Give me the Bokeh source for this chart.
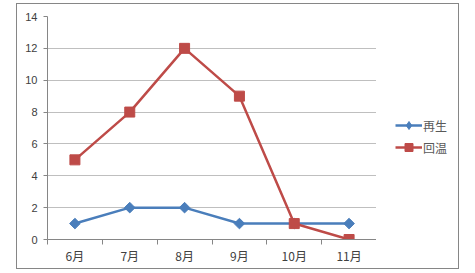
import math
from bokeh.plotting import figure
from bokeh.layouts import row
from bokeh.models import (Range1d, LinearAxis, FixedTicker, Legend, LegendItem,
                          ColumnDataSource, InlineStyleSheet)
from bokeh.embed import file_html
from bokeh.resources import INLINE

months = ["6月", "7月", "8月", "9月", "10月", "11月"]
regen = [1, 2, 2, 1, 1, 1]        # 再生
rewarm = [5, 8, 12, 9, 1, 0]      # 回温
y_ticks = [0, 2, 4, 6, 8, 10, 12, 14]
series_names = ["再生", "回温"]

xpos = [i + 0.5 for i in range(len(months))]
src = ColumnDataSource(dict(x=xpos, regen=regen, rewarm=rewarm))

GRAY = "#868686"
TXT = "#404040"
BLUE = "#4a7ebb"
RED = "#be4b48"

p = figure(width=376, height=273, output_backend="svg", toolbar_location=None,
           x_range=Range1d(0, len(months)), y_range=Range1d(0, 14),
           x_axis_location=None, y_axis_location=None,
           min_border_left=47, min_border_right=0, min_border_top=16,
           min_border_bottom=34)
p.outline_line_color = None
p.background_fill_color = "white"
p.border_fill_color = "white"

yax = LinearAxis(ticker=FixedTicker(ticks=y_ticks, minor_ticks=[]))
yax.axis_line_color = GRAY
yax.major_tick_line_color = GRAY
yax.major_tick_out = 4
yax.major_tick_in = 0
yax.major_label_standoff = 6
yax.major_label_text_font = "Liberation Sans"
yax.major_label_text_font_size = "11px"
yax.major_label_text_color = TXT
p.add_layout(yax, "left")

xax = LinearAxis(ticker=FixedTicker(ticks=xpos, minor_ticks=list(range(len(months) + 1))))
xax.major_label_overrides = {x: m for x, m in zip(xpos, months)}
xax.axis_line_color = GRAY
xax.major_tick_out = 0
xax.major_tick_in = 0
xax.minor_tick_line_color = GRAY
xax.minor_tick_out = 5
xax.minor_tick_in = 0
xax.major_label_standoff = 2
xax.major_label_text_font = "Noto Sans CJK SC"
xax.major_label_text_font_size = "12px"
xax.major_label_text_color = TXT
p.add_layout(xax, "below")

p.ygrid.ticker = FixedTicker(ticks=y_ticks)
p.ygrid.grid_line_color = "#bfbfbf"
p.xgrid.visible = False

p.line("x", "regen", source=src, line_color=BLUE, line_width=2.5)
p.scatter("x", "regen", source=src, marker="square", size=7.5, angle=math.pi / 4,
          fill_color=BLUE, line_color=BLUE)
p.line("x", "rewarm", source=src, line_color=RED, line_width=2.5)
p.scatter("x", "rewarm", source=src, marker="square", size=10,
          fill_color=RED, line_color=RED)

# legend panel (series drawn out of view; only their legend glyphs show)
q = figure(width=99, height=273, output_backend="svg", toolbar_location=None,
           x_range=Range1d(-20, -19), y_range=Range1d(-20, -19),
           x_axis_location=None, y_axis_location=None, min_border=0)
q.outline_line_color = None
q.xgrid.visible = False
q.ygrid.visible = False
q.background_fill_color = "white"
q.border_fill_color = "white"
k1 = q.line("x", "regen", source=src, line_color=BLUE, line_width=2.5)
d1 = q.scatter("x", "regen", source=src, marker="diamond", size=9,
               fill_color=BLUE, line_color=BLUE)
k2 = q.line("x", "rewarm", source=src, line_color=RED, line_width=2.5)
d2 = q.scatter("x", "rewarm", source=src, marker="square", size=9,
               fill_color=RED, line_color=RED)

legend = Legend(items=[LegendItem(label=series_names[0], renderers=[k1, d1]),
                       LegendItem(label=series_names[1], renderers=[k2, d2])],
                location=(19, 82), orientation="vertical")
legend.border_line_color = None
legend.background_fill_alpha = 0
legend.margin = 0
legend.padding = 0
legend.spacing = 2
legend.glyph_width = 27
legend.glyph_height = 20
legend.label_standoff = 1
legend.label_text_font = "Noto Sans CJK SC"
legend.label_text_font_size = "12px"
legend.label_text_color = "#595959"
q.add_layout(legend)

layout = row(p, q, spacing=0)
layout.stylesheets = [InlineStyleSheet(css="""
:host { position: relative; }
:host::after { content: ""; position: absolute; left: 16px; top: 3px;
  width: 443px; height: 266px; border: 1px solid #868686;
  box-sizing: border-box; pointer-events: none; z-index: 10; }
""")]

open("out.html", "w").write(file_html(layout, INLINE))
